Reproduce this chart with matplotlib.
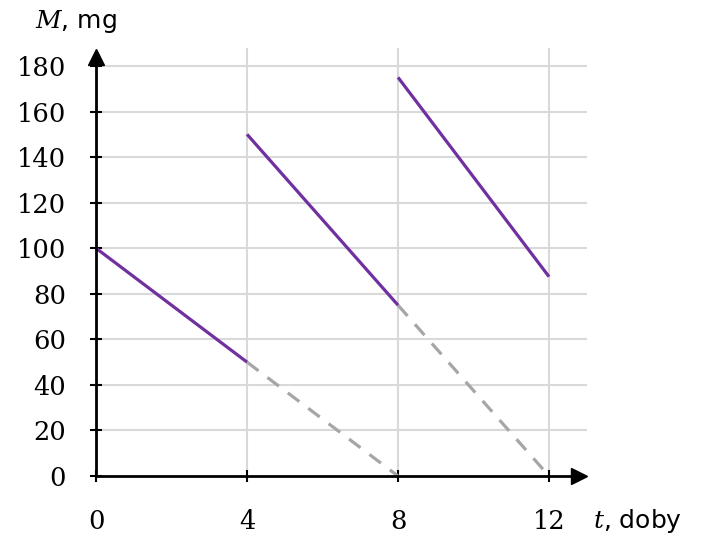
import matplotlib.pyplot as plt

# dose intervals (t) and drug mass M at start / end of each interval
seg_t0 = [0, 4, 8]
seg_t1 = [4, 8, 12]
seg_m0 = [100, 150, 175]
seg_m1 = [50, 75, 87.5]

# continuation of decay without the next dose (dashed)
dash_t0 = [4, 8]
dash_t1 = [8, 12]
dash_m0 = [50, 75]
dash_m1 = [0, 0]

xticks = [0, 4, 8, 12]
yticks = list(range(0, 181, 20))

plt.rcParams['mathtext.fontset'] = 'dejavuserif'

fig = plt.figure(figsize=(7.03, 5.4), dpi=100)
ax = fig.add_axes([0.0829, 0.0763, 0.7625, 0.8437])
ax.set_xlim(-1, 13.2)
ax.set_ylim(-10, 190)

# grid drawn by hand so it stops at the axes
ax.hlines(yticks[1:], 0, 13, color='#d9d9d9', lw=1.5, zorder=1)
ax.vlines(xticks[1:], 0, 188, color='#d9d9d9', lw=1.5, zorder=1)

for spine in ['top', 'right']:
    ax.spines[spine].set_visible(False)
ax.spines['left'].set_position(('data', 0))
ax.spines['bottom'].set_position(('data', 0))
ax.spines['left'].set_bounds(0, 184)
ax.spines['bottom'].set_bounds(0, 12.8)
ax.spines['left'].set_linewidth(2)
ax.spines['bottom'].set_linewidth(2)
ax.spines['left'].set_zorder(4)
ax.spines['bottom'].set_zorder(4)

# arrow heads
ax.plot(0, 184, marker='^', color='black', markersize=11, clip_on=False, zorder=5)
ax.plot(12.8, 0, marker='>', color='black', markersize=11, clip_on=False, zorder=5)

ax.set_xticks(xticks)
ax.set_yticks(yticks)
ax.tick_params(direction='inout', length=9, width=1.5, color='black')
ax.tick_params(axis='x', pad=19)
ax.tick_params(axis='y', pad=17)
for lbl in ax.get_xticklabels() + ax.get_yticklabels():
    lbl.set_family('DejaVu Serif')
    lbl.set_fontsize(18.5)

for a, b, c, d in zip(dash_t0, dash_t1, dash_m0, dash_m1):
    ax.plot([a, b], [c, d], color='#a6a6a6', lw=2.3, dashes=(4.5, 3.5), zorder=3)

for a, b, c, d in zip(seg_t0, seg_t1, seg_m0, seg_m1):
    ax.plot([a, b], [c, d], color='#7030a0', lw=2.3, zorder=3, solid_capstyle='butt')

fig.text(0.05, 0.96, '$M$, mg', fontsize=18, family='DejaVu Sans', va='center')
fig.text(0.843, 0.035, '$t$, doby', fontsize=18, family='DejaVu Sans', va='center')

plt.savefig('out.png', dpi=100)
